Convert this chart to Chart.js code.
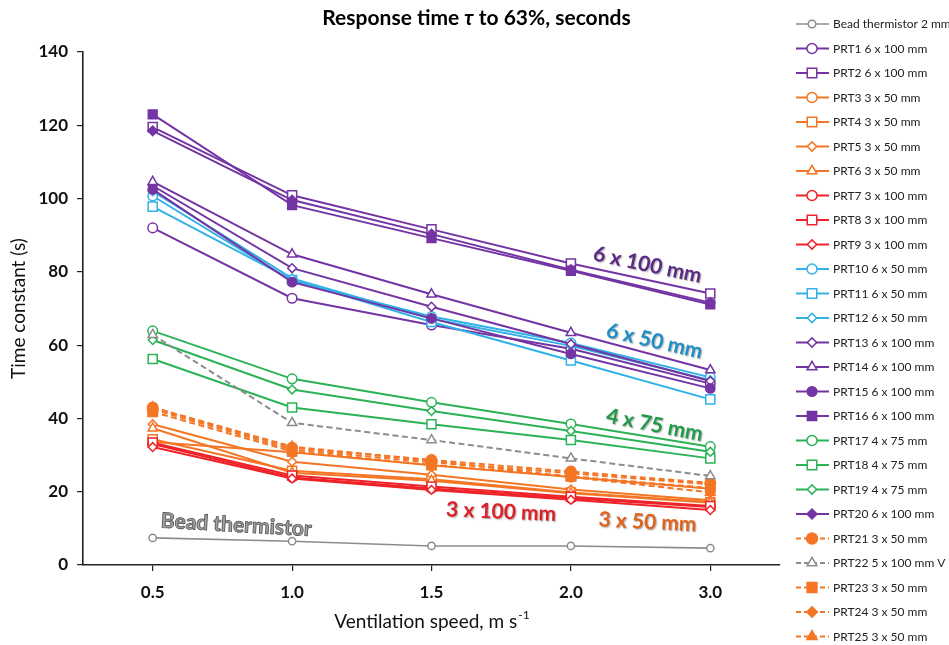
<!DOCTYPE html>
<html>
<head>
<meta charset="utf-8">
<script src="https://cdn.jsdelivr.net/npm/chart.js@4.4.1/dist/chart.umd.min.js"></script>
<style>
html,body{margin:0;padding:0;background:#fff;overflow:hidden}
#wrap{width:949px;height:645px;position:relative}
</style>
</head>
<body>
<div id="wrap"><canvas id="c" width="949" height="645"></canvas></div>
<script>
// ---------- data ----------
const categories = ['0.5', '1.0', '1.5', '2.0', '3.0'];
const yTickValues = [0, 20, 40, 60, 80, 100, 120, 140];
const seriesNames = [
  'Bead thermistor 2 mm', 'PRT1 6 x 100 mm', 'PRT2 6 x 100 mm', 'PRT3 3 x 50 mm', 'PRT4 3 x 50 mm',
  'PRT5 3 x 50 mm', 'PRT6 3 x 50 mm', 'PRT7 3 x 100 mm', 'PRT8 3 x 100 mm', 'PRT9 3 x 100 mm',
  'PRT10 6 x 50 mm', 'PRT11 6 x 50 mm', 'PRT12 6 x 50 mm', 'PRT13 6 x 100 mm', 'PRT14 6 x 100 mm',
  'PRT15 6 x 100 mm', 'PRT16 6 x 100 mm', 'PRT17 4 x 75 mm', 'PRT18 4 x 75 mm', 'PRT19 4 x 75 mm',
  'PRT20 6 x 100 mm', 'PRT21 3 x 50 mm', 'PRT22 5 x 100 mm V', 'PRT23 3 x 50 mm', 'PRT24 3 x 50 mm',
  'PRT25 3 x 50 mm'
];
const beadThermistor = [7.4, 6.5, 5.2, 5.2, 4.6];
const prt1  = [92.0, 72.8, 65.5, 59.0, 49.5];
const prt2  = [119.5, 100.9, 91.6, 82.3, 74.1];
const prt3  = [33.6, 30.8, 27.2, 24.0, 20.8];
const prt4  = [34.3, 25.7, 23.4, 19.8, 17.2];
const prt5  = [38.4, 28.2, 24.6, 20.6, 17.7];
const prt6  = [37.3, 25.2, 23.0, 19.6, 17.0];
const prt7  = [33.0, 23.9, 20.9, 18.2, 15.8];
const prt8  = [33.4, 24.4, 21.4, 18.6, 16.1];
const prt9  = [32.2, 23.6, 20.5, 17.8, 15.0];
const prt10 = [100.7, 77.5, 67.8, 60.6, 51.2];
const prt11 = [97.8, 77.8, 66.3, 55.8, 45.2];
const prt12 = [102.0, 78.2, 67.2, 59.8, 50.4];
const prt13 = [103.5, 81.0, 70.5, 60.3, 50.2];
const prt14 = [104.6, 84.8, 73.9, 63.4, 53.2];
const prt15 = [102.5, 77.2, 67.3, 57.6, 48.2];
const prt16 = [123.0, 98.2, 89.2, 80.3, 71.1];
const prt17 = [63.9, 50.8, 44.4, 38.5, 32.3];
const prt18 = [56.2, 43.0, 38.4, 34.1, 29.1];
const prt19 = [61.4, 47.9, 42.0, 36.6, 30.9];
const prt20 = [118.5, 99.6, 90.3, 80.6, 71.6];
const prt21 = [43.0, 32.0, 28.7, 25.5, 22.4];
const prt22 = [62.8, 38.8, 34.1, 29.1, 24.3];
const prt23 = [41.8, 31.0, 27.3, 24.2, 21.0];
const prt24 = [42.5, 31.5, 28.0, 25.0, 22.0];
const prt25 = [43.0, 32.3, 28.5, 24.0, 19.8];

const seriesValues = [beadThermistor, prt1, prt2, prt3, prt4, prt5, prt6, prt7, prt8, prt9,
  prt10, prt11, prt12, prt13, prt14, prt15, prt16, prt17, prt18, prt19, prt20,
  prt21, prt22, prt23, prt24, prt25];

// ---------- styles ----------
const COL = {
  gray: '#8c8c8c', purple: '#7434a3', orange: '#f47625', red: '#ee2228',
  cyan: '#31b1e8', green: '#2bb257'
};
// [color, pointStyle, filled, dashed, radius, lineWidth]
const seriesStyles = [
  [COL.gray, 'circle', false, false, 3.6, 1.6],
  [COL.purple, 'circle', false, false, 4.8, 2],
  [COL.purple, 'rect', false, false, 6.4, 2],
  [COL.orange, 'circle', false, false, 4.8, 2],
  [COL.orange, 'rect', false, false, 6.4, 2],
  [COL.orange, 'rectRot', false, false, 4.4, 2],
  [COL.orange, 'triangle', false, false, 5.4, 2],
  [COL.red, 'circle', false, false, 4.8, 2],
  [COL.red, 'rect', false, false, 6.4, 2],
  [COL.red, 'rectRot', false, false, 4.4, 2],
  [COL.cyan, 'circle', false, false, 4.8, 2],
  [COL.cyan, 'rect', false, false, 6.4, 2],
  [COL.cyan, 'rectRot', false, false, 4.4, 2],
  [COL.purple, 'rectRot', false, false, 4.4, 2],
  [COL.purple, 'triangle', false, false, 5.4, 2],
  [COL.purple, 'circle', true, false, 4.6, 2],
  [COL.purple, 'rect', true, false, 6.2, 2],
  [COL.green, 'circle', false, false, 4.8, 2],
  [COL.green, 'rect', false, false, 6.4, 2],
  [COL.green, 'rectRot', false, false, 4.4, 2],
  [COL.purple, 'rectRot', true, false, 4.8, 2],
  [COL.orange, 'circle', true, true, 5.2, 2],
  [COL.gray, 'triangle', false, true, 5.4, 2],
  [COL.orange, 'rect', true, true, 6.6, 2],
  [COL.orange, 'rectRot', true, true, 5.0, 2],
  [COL.orange, 'triangle', true, true, 5.6, 2]
];

const annotations = [
  { text: '6 x 100 mm', xi: 3.55, yv: 81.9, angle: 12, color: '#5a2a86' },
  { text: '6 x 50 mm', xi: 3.60, yv: 61.1, angle: 13, color: '#1c8fc8' },
  { text: '4 x 75 mm', xi: 3.60, yv: 38.2, angle: 11, color: '#1f9a47' },
  { text: '3 x 100 mm', xi: 2.50, yv: 14.5, angle: 2.5, color: '#df1f26' },
  { text: '3 x 50 mm', xi: 3.55, yv: 11.7, angle: 3, color: '#e2621c' },
  { text: 'Bead thermistor', xi: 0.60, yv: 10.9, angle: 3.2, color: '#a3a3a3', outline: '#5a5a5a' }
];

const FONT = 'Lato, "Open Sans", "Liberation Sans", sans-serif';

function markerPath(ctx, style, x, y, r) {
  ctx.beginPath();
  if (style === 'circle') {
    ctx.arc(x, y, r, 0, Math.PI * 2);
  } else if (style === 'rect') {
    const s = r * Math.SQRT1_2;
    ctx.rect(x - s, y - s, 2 * s, 2 * s);
  } else if (style === 'rectRot') {
    ctx.moveTo(x - r, y); ctx.lineTo(x, y - r); ctx.lineTo(x + r, y); ctx.lineTo(x, y + r);
    ctx.closePath();
  } else if (style === 'triangle') {
    let a = 0;
    ctx.moveTo(x + Math.sin(a) * r, y - Math.cos(a) * r);
    a += Math.PI * 2 / 3;
    ctx.lineTo(x + Math.sin(a) * r, y - Math.cos(a) * r);
    a += Math.PI * 2 / 3;
    ctx.lineTo(x + Math.sin(a) * r, y - Math.cos(a) * r);
    ctx.closePath();
  }
}

const datasets = seriesValues.map((vals, i) => {
  const [color, ps, filled, dashed, r, lw] = seriesStyles[i];
  return {
    label: seriesNames[i],
    data: vals,
    borderColor: color,
    backgroundColor: color,
    borderWidth: lw,
    borderDash: dashed ? [6, 3.5] : [],
    pointStyle: ps,
    pointRadius: r,
    pointBackgroundColor: filled ? color : '#ffffff',
    pointBorderColor: color,
    pointBorderWidth: 1.5,
    tension: 0,
    fill: false,
    order: seriesValues.length - i
  };
});

const extrasPlugin = {
  id: 'extras',
  afterDatasetsDraw(chart) {
    const ctx = chart.ctx;
    const xs = chart.scales.x, ys = chart.scales.y;
    annotations.forEach(a => {
      const px = xs.getPixelForValue(a.xi);
      const py = ys.getPixelForValue(a.yv);
      ctx.save();
      ctx.translate(px, py);
      ctx.rotate(a.angle * Math.PI / 180);
      ctx.font = 'bold 21px ' + FONT;
      ctx.textAlign = 'center';
      ctx.textBaseline = 'middle';
      if (a.outline) {
        ctx.fillStyle = a.color;
        ctx.fillText(a.text, 0, 0);
        ctx.lineWidth = 0.9;
        ctx.strokeStyle = a.outline;
        ctx.strokeText(a.text, 0, 0);
      } else {
        ctx.shadowColor = 'rgba(0,0,0,0.35)';
        ctx.shadowOffsetX = 1;
        ctx.shadowOffsetY = 1;
        ctx.shadowBlur = 1.5;
        ctx.fillStyle = a.color;
        ctx.fillText(a.text, 0, 0);
      }
      ctx.restore();
    });
  },
  afterDraw(chart) {
    const ctx = chart.ctx;
    ctx.save();
    // Title with italic tau
    const y0 = 18;
    const parts = [
      ['bold 21px ' + FONT, 'Response time '],
      ['italic bold 21px ' + FONT, 'τ'],
      ['bold 21px ' + FONT, ' to 63%, seconds']
    ];
    let total = 0;
    parts.forEach(p => { ctx.font = p[0]; total += ctx.measureText(p[1]).width; });
    let x = chart.width / 2 - total / 2 + 2;
    ctx.fillStyle = '#000';
    ctx.textBaseline = 'middle';
    ctx.textAlign = 'left';
    parts.forEach(p => { ctx.font = p[0]; ctx.fillText(p[1], x, y0); x += ctx.measureText(p[1]).width; });

    // X axis title with superscript
    const ca = chart.chartArea;
    const cx = (ca.left + ca.right) / 2;
    const main = 'Ventilation speed, m s';
    const sup = '-1';
    ctx.font = '19px ' + FONT;
    const wMain = ctx.measureText(main).width;
    ctx.font = '12px ' + FONT;
    const wSup = ctx.measureText(sup).width;
    let tx = cx - (wMain + wSup) / 2;
    ctx.fillStyle = '#111';
    ctx.font = '19px ' + FONT;
    ctx.fillText(main, tx, 622);
    ctx.font = '12px ' + FONT;
    ctx.fillText(sup, tx + wMain + 1, 615);

    // Legend
    const lx0 = 796, lx1 = 829, mx = 812, textX = 833;
    const ly0 = 24, step = 24.5;
    chart.data.datasets.forEach((ds, i) => {
      const [color, ps, filled, dashed, r] = seriesStyles[i];
      const y = ly0 + i * step;
      ctx.save();
      ctx.strokeStyle = color;
      ctx.lineWidth = i === 0 ? 1.6 : 2;
      ctx.setLineDash(dashed ? [5, 3] : []);
      ctx.beginPath();
      ctx.moveTo(lx0, y); ctx.lineTo(lx1, y);
      ctx.stroke();
      ctx.setLineDash([]);
      markerPath(ctx, ps, mx, y, r * 1.05);
      ctx.fillStyle = filled ? color : '#fff';
      ctx.fill();
      ctx.lineWidth = 1.5;
      ctx.stroke();
      ctx.restore();
      ctx.font = '12px ' + FONT;
      ctx.fillStyle = '#222';
      ctx.textAlign = 'left';
      ctx.textBaseline = 'middle';
      ctx.fillText(ds.label, textX, y + 0.5);
    });
    ctx.restore();
  }
};

new Chart(document.getElementById('c'), {
  type: 'line',
  data: { labels: categories, datasets: datasets },
  plugins: [extrasPlugin],
  options: {
    responsive: false,
    animation: false,
    devicePixelRatio: 1,
    layout: { padding: { left: 0, right: 169, top: 52, bottom: 0 } },
    plugins: {
      legend: { display: false },
      tooltip: { enabled: false },
      title: { display: false }
    },
    scales: {
      x: {
        type: 'category',
        offset: true,
        grid: { display: true, offset: false, drawOnChartArea: false, drawTicks: true, tickLength: 6, color: '#222', lineWidth: 1.2 },
        border: { display: true, color: '#222', width: 1.6 },
        ticks: { color: '#111', font: { family: FONT, size: 17, weight: 'bold' }, padding: 11, maxRotation: 0 },
        afterFit(scale) { scale.height = 80; }
      },
      y: {
        min: 0, max: 140,
        afterBuildTicks(scale) { scale.ticks = yTickValues.map(v => ({ value: v })); },
        grid: { display: true, drawOnChartArea: false, drawTicks: true, tickLength: 6, color: '#222', lineWidth: 1.2 },
        border: { display: true, color: '#222', width: 1.6 },
        ticks: { color: '#111', font: { family: FONT, size: 17, weight: 'bold' }, padding: 9 },
        title: { display: true, text: 'Time constant (s)', color: '#111', font: { family: FONT, size: 19 }, padding: { top: 7, bottom: 0 } },
        afterFit(scale) { scale.width = 83; }
      }
    }
  }
});
</script>
</body>
</html>
